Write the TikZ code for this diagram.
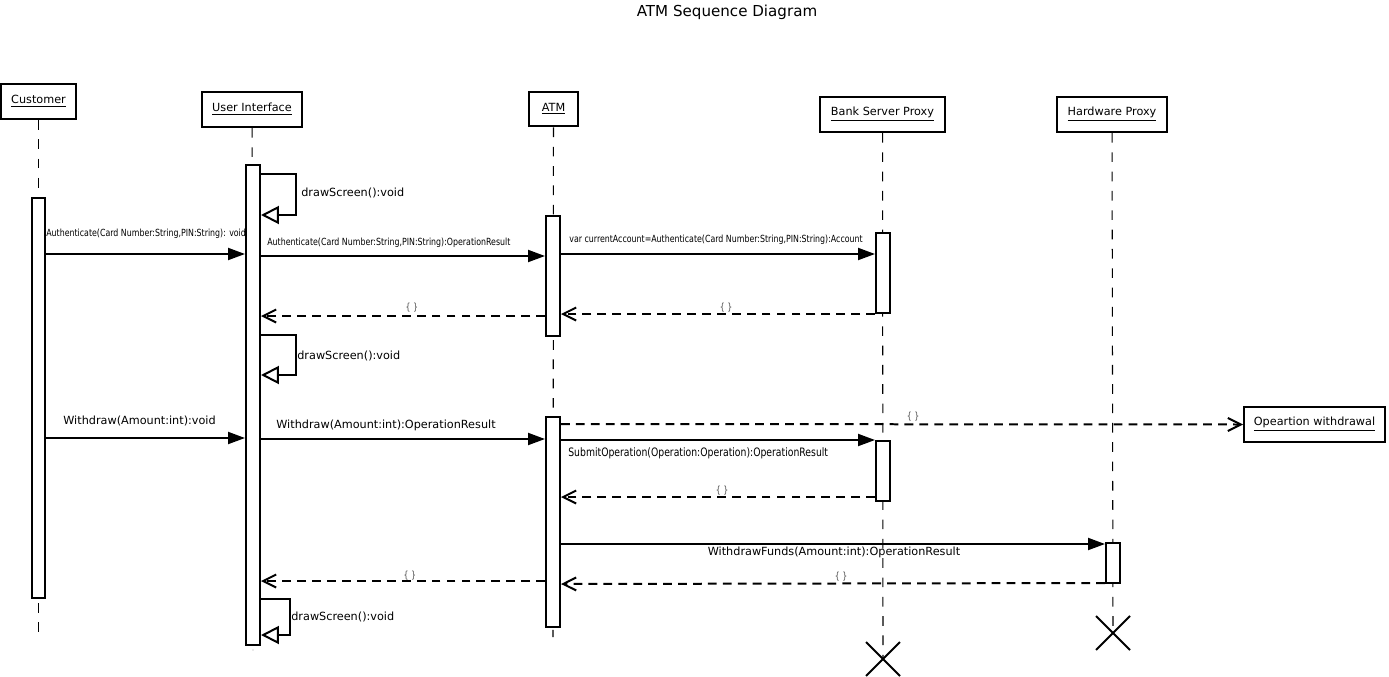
\documentclass[tikz,border=0pt]{standalone}
\usepackage{fontspec}
\setmainfont{DejaVu Sans}
\newfontfamily\narrowfont[FakeStretch=0.8]{DejaVu Sans}
\usetikzlibrary{arrows.meta,shapes.misc,positioning}
\newcommand{\msgfont}{\fontsize{6.4}{7.5}\selectfont}
\newcommand{\tinymsgfont}{\narrowfont\fontsize{5.6}{6.5}\selectfont}
\newcommand{\smallmsgfont}{\narrowfont\fontsize{6.6}{7.5}\selectfont}
\tikzset{
        head/.style = {draw, fill=white, line width=0.04cm,
            minimum height=0.7cm, inner sep=0, font=\msgfont},
        act/.style = {draw, fill=white, line width=0.04cm,
            minimum width=0.28cm, inner sep=0, minimum height=#1},
        life/.style = {draw, line width=0.6pt, dash pattern=on 5.5pt off 5.5pt},
        sync/.style = {draw, line width=0.04cm, -{Triangle[length=0.34cm, width=0.24cm]}},
        reply/.style = {draw, line width=0.04cm, dash pattern=on 5pt off 3.5pt,
            -{Straight Barb[length=0.26cm, width=0.26cm]}},
        selfcall/.style = {draw, line width=0.04cm, -{Triangle[open, length=0.36cm, width=0.36cm]}},
        destroy/.style = {draw, cross out, line width=0.04cm, minimum size=0.64cm, inner sep=0},
        lab/.style = {font=\msgfont, anchor=west, inner sep=0},
        tinylab/.style = {font=\tinymsgfont, anchor=west, inner sep=0},
        smalllab/.style = {font=\smallmsgfont, anchor=west, inner sep=0},
        replylab/.style = {font=\tinymsgfont, text=black!70, inner sep=0},
    }

\begin{document}
\begin{tikzpicture}[x=0.02cm, y=-0.02cm]
  \useasboundingbox (0,0) rectangle (1389,676);

  \node[font=\fontsize{8.6}{10}\selectfont] (title) at (727,12) {ATM Sequence Diagram};

  % lifeline heads
  \node[head, minimum width=1.5cm] (cust) at (38.5,101.5) {\underline{Customer}};
  \node[head, minimum width=2cm] (ui) at (252,109.5) {\underline{User Interface}};
  \node[head, minimum width=0.98cm] (atm) at (553.5,109) {\underline{ATM}};
  \node[head, minimum width=2.5cm] (bank) at (882.5,114.5) {\underline{Bank Server Proxy}};
  \node[head, minimum width=2.2cm] (hw) at (1112,114.5) {\underline{Hardware Proxy}};
  \node[head, minimum width=2.82cm] (opw) at (1314.5,424.5) {\underline{Opeartion withdrawal}};

  \coordinate (custEnd) at (38.5,640);
  \coordinate (uiEnd) at (253,650);
  \coordinate (atmEnd) at (553,637);
  \node[destroy] (bankX) at (883,659) {};
  \node[destroy] (hwX) at (1113,633) {};

  \draw[life] (cust) -- (custEnd);
  \draw[life] (ui) -- (uiEnd);
  \draw[life] (atm) -- (atmEnd);
  \draw[life] (bank) -- (bankX.center);
  \draw[life] (hw) -- (hwX.center);

  % activations
  \node[act=8cm] (custAct) at (38.5,398) {};
  \node[act=9.6cm] (uiAct) at (253,405) {};
  \node[act=2.4cm] (atmAct1) at (553,276) {};
  \node[act=4.2cm] (atmAct2) at (553,522) {};
  \node[act=1.6cm] (bankAct1) at (883,273) {};
  \node[act=1.2cm] (bankAct2) at (883,471) {};
  \node[act=0.8cm] (hwAct) at (1113,563) {};

  % authenticate
  \draw[selfcall] (uiAct.east |- 0,174) -- ++(35,0) |- (uiAct.east |- 0,215);
  \node[lab] (s1) at (301,193) {drawScreen():void};
  \draw[sync] (custAct.east |- 0,254) -- (uiAct.west |- 0,254);
  \node[tinylab] (m1) at (46,234) {Authenticate(Card Number:String,PIN:String): void};
  \draw[sync] (uiAct.east |- 0,256) -- (atmAct1.west |- 0,256);
  \node[tinylab] (m2) at (267,243) {Authenticate(Card Number:String,PIN:String):OperationResult};
  \draw[sync] (atmAct1.east |- 0,254) -- (bankAct1.west |- 0,254);
  \node[tinylab] (m3) at (569,240) {var currentAccount=Authenticate(Card Number:String,PIN:String):Account};
  \draw[reply] (bankAct1.west |- 0,314) -- (atmAct1.east |- 0,314);
  \node[replylab] (r1) at (726,308) {\{ \}};
  \draw[reply] (atmAct1.west |- 0,316) -- (uiAct.east |- 0,316);
  \node[replylab] (r2) at (412,308) {\{ \}};
  \draw[selfcall] (uiAct.east |- 0,335) -- ++(35,0) |- (uiAct.east |- 0,375);
  \node[lab] (s2) at (297,356) {drawScreen():void};

  % withdraw
  \draw[sync] (custAct.east |- 0,438) -- (uiAct.west |- 0,438);
  \node[lab] (m4) at (63,421) {Withdraw(Amount:int):void};
  \draw[sync] (uiAct.east |- 0,439) -- (atmAct2.west |- 0,439);
  \node[lab] (m5) at (276,425) {Withdraw(Amount:int):OperationResult};
  \draw[reply] (atmAct2.east |- 0,424) -- (opw.west);
  \node[replylab] (r3) at (913,417) {\{ \}};
  \draw[sync] (atmAct2.east |- 0,440) -- (bankAct2.west |- 0,440);
  \node[smalllab] (m6) at (568,453) {SubmitOperation(Operation:Operation):OperationResult};
  \draw[reply] (bankAct2.west |- 0,497) -- (atmAct2.east |- 0,497);
  \node[replylab] (r4) at (722,491) {\{ \}};
  \draw[sync] (atmAct2.east |- 0,544) -- (hwAct.west |- 0,544);
  \node[lab, anchor=center] (m7) at (834,552) {WithdrawFunds(Amount:int):OperationResult};
  \draw[reply] (hwAct.west |- 0,583) -- (atmAct2.east |- 0,584);
  \node[replylab] (r5) at (841,577) {\{ \}};
  \draw[reply] (atmAct2.west |- 0,581) -- (uiAct.east |- 0,581);
  \node[replylab] (r6) at (410,576) {\{ \}};
  \draw[selfcall] (uiAct.east |- 0,599) -- ++(29,0) |- (uiAct.east |- 0,635);
  \node[lab] (s3) at (291,617) {drawScreen():void};
\end{tikzpicture}
\end{document}
